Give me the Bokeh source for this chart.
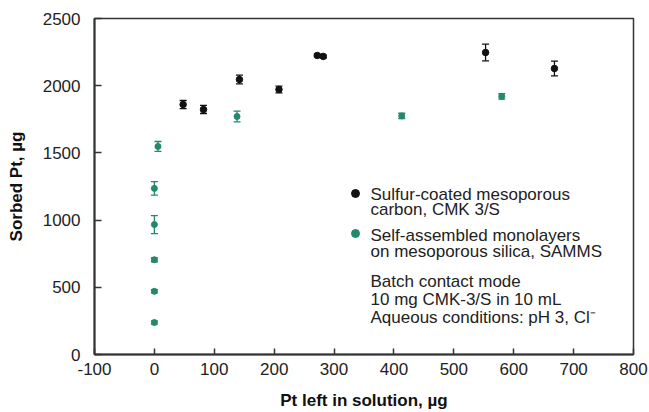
from bokeh.plotting import figure
from bokeh.models import ColumnDataSource, Whisker, Legend, LegendItem, Label, FixedTicker
from bokeh.embed import file_html
from bokeh.resources import INLINE

# CMK-3/S (sulfur-coated mesoporous carbon)
cmk_x = [48, 82, 142, 208, 272, 282, 553, 668]
cmk_y = [1860, 1823, 2046, 1972, 2225, 2218, 2247, 2128]
cmk_err = [30, 30, 33, 25, 10, 10, 62, 55]

# SAMMS (self-assembled monolayers on mesoporous silica)
sam_x = [0, 0, 0, 0, 0, 6, 138, 413, 580]
sam_y = [238, 470, 705, 967, 1236, 1548, 1771, 1775, 1920]
sam_err = [12, 12, 15, 67, 50, 37, 40, 20, 20]

x_ticks = [-100, 0, 100, 200, 300, 400, 500, 600, 700, 800]
y_ticks = [0, 500, 1000, 1500, 2000, 2500]
x_tick_labels = ["-100", "0", "100", "200", "300", "400", "500", "600", "700", "800"]
y_tick_labels = ["0", "500", "1000", "1500", "2000", "2500"]

series_names = ["Sulfur-coated mesoporous\ncarbon, CMK 3/S",
                "Self-assembled monolayers\non mesoporous silica, SAMMS"]
note_text = "Batch contact mode\n10 mg CMK-3/S in 10 mL\nAqueous conditions: pH 3, Cl\u207b"

FONT = "Liberation Sans"
AX = "#333333"
BLACK = "#111111"
TEAL = "#23896c"
TXT = "#222222"

p = figure(width=649, height=412, output_backend="svg", toolbar_location=None,
           x_range=(-100, 800), y_range=(0, 2500),
           min_border_left=94, min_border_right=16, min_border_top=18, min_border_bottom=58)
p.grid.visible = False
p.outline_line_color = AX
p.outline_line_width = 1.5
p.background_fill_color = "white"

cmk_src = ColumnDataSource(dict(x=cmk_x, y=cmk_y,
                                lo=[a - b for a, b in zip(cmk_y, cmk_err)],
                                hi=[a + b for a, b in zip(cmk_y, cmk_err)]))
sam_src = ColumnDataSource(dict(x=sam_x, y=sam_y,
                                lo=[a - b for a, b in zip(sam_y, sam_err)],
                                hi=[a + b for a, b in zip(sam_y, sam_err)]))

for src, col in ((sam_src, TEAL), (cmk_src, BLACK)):
    w = Whisker(source=src, base="x", upper="hi", lower="lo", line_color=col, line_width=1.3)
    w.upper_head.size = 7
    w.lower_head.size = 7
    w.upper_head.line_color = col
    w.lower_head.line_color = col
    w.upper_head.line_width = 1.3
    w.lower_head.line_width = 1.3
    p.add_layout(w)

r_sam = p.scatter("x", "y", source=sam_src, size=6, color=TEAL)
r_cmk = p.scatter("x", "y", source=cmk_src, size=6.5, color=BLACK)

for ax in (p.xaxis[0], p.yaxis[0]):
    ax.axis_line_color = AX
    ax.axis_line_width = 2
    ax.major_tick_line_color = AX
    ax.major_tick_line_width = 1.5
    ax.major_tick_out = 0
    ax.minor_tick_line_color = None
    ax.major_label_text_font = FONT
    ax.major_label_text_font_size = "17px"
    ax.major_label_text_color = TXT
    ax.axis_label_text_font = FONT
    ax.axis_label_text_font_size = "17px"
    ax.axis_label_text_font_style = "bold"
    ax.axis_label_text_color = "#111111"

p.xaxis.ticker = FixedTicker(ticks=x_ticks)
p.yaxis.ticker = FixedTicker(ticks=y_ticks)
p.xaxis.major_label_overrides = dict(zip(x_ticks, x_tick_labels))
p.yaxis.major_label_overrides = dict(zip(y_ticks, y_tick_labels))
p.xaxis.major_tick_in = 6
p.yaxis.major_tick_in = 7
p.xaxis.major_label_standoff = 8
p.yaxis.major_label_standoff = 14
p.xaxis.axis_label = "Pt left in solution, \u00b5g"
p.yaxis.axis_label = "Sorbed Pt, \u00b5g"
p.xaxis.axis_label_standoff = 13
p.yaxis.axis_label_standoff = 14

# legend markers (texts are drawn as labels next to them)
legend = Legend(items=[LegendItem(label=" ", renderers=[r_cmk]),
                       LegendItem(label=" ", renderers=[r_sam])],
                location=(251, 111), padding=0, margin=0, spacing=20,
                border_line_color=None, background_fill_alpha=0,
                label_text_font=FONT, label_text_font_size="17px",
                label_standoff=5, glyph_width=20, glyph_height=20, label_height=20)
p.add_layout(legend)

for txt, ytop, lh in ((series_names[0], 170, 0.84), (series_names[1], 129, 0.86), (note_text, 83, 0.95)):
    p.add_layout(Label(x=276, y=ytop, x_units="screen", y_units="screen", text=txt,
                       text_font=FONT, text_font_size="17px", text_color=TXT,
                       text_baseline="top", text_align="left", text_line_height=lh))

open("out.html", "w").write(file_html(p, INLINE))
